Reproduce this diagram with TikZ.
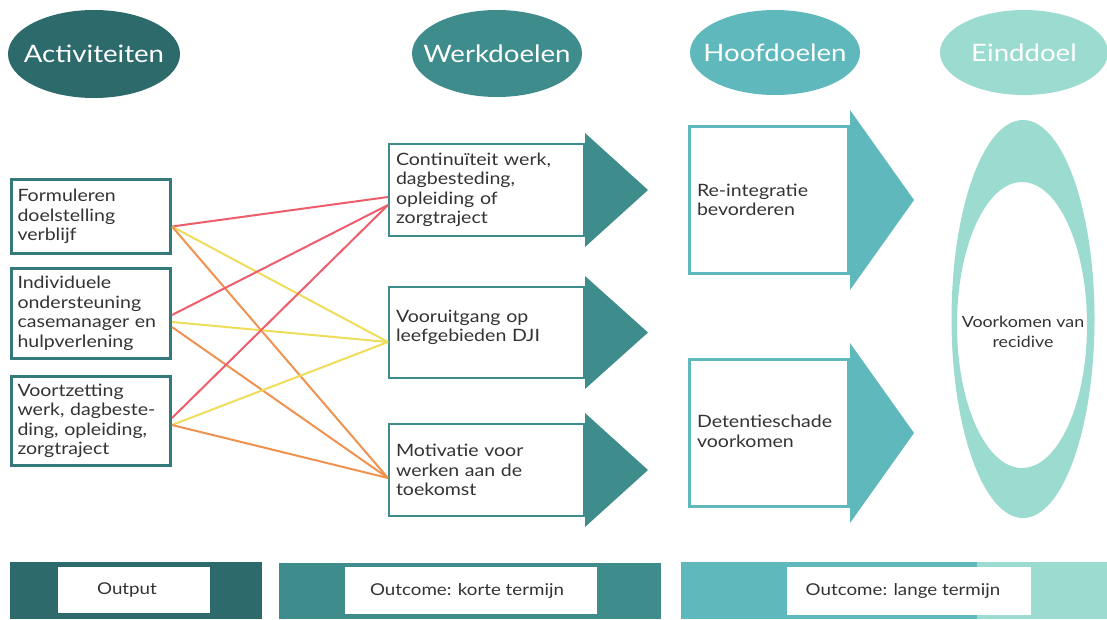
\documentclass[tikz,border=0pt]{standalone}
\usepackage{fontspec}
\setmainfont{Lato}[FakeStretch=1.15]
\usetikzlibrary{shapes.geometric,positioning}

\definecolor{donker}{HTML}{2D6A6B}
\definecolor{midden}{HTML}{3E8C8C}
\definecolor{licht}{HTML}{5FB8BC}
\definecolor{lichtst}{HTML}{9CDBCF}
\definecolor{rand}{HTML}{357A7A}
\definecolor{tekst}{HTML}{333333}
\definecolor{rood}{HTML}{EE5D6C}
\definecolor{geel}{HTML}{EEDC5B}
\definecolor{oranje}{HTML}{F0924F}

\begin{document}
\begin{tikzpicture}[x=1pt,y=-1pt,
  kop/.style={ellipse,inner xsep=-15pt,inner ysep=0pt,text=white,font=\fontsize{24}{27}\selectfont},
  blok/.style={rectangle,draw,fill=white,align=left,text=tekst,font=\fontsize{17}{19.5}\selectfont},
  lijn/.style={line width=2pt},
  label/.style={rectangle,fill=white,text=tekst,inner sep=0pt,font=\fontsize{16.3}{19}\selectfont}]
\useasboundingbox (0,0) rectangle (1107,619);

% koppen
\node[kop,fill=donker,minimum width=172pt,minimum height=88pt] (kact) at (94,54) {Activiteiten};
\node[kop,fill=midden,minimum width=170pt,minimum height=87pt] (kwd) at (497,53.5) {Werkdoelen};
\node[kop,fill=licht,minimum width=170pt,minimum height=85pt] (khd) at (775,52.5) {Hoofdoelen};
\node[kop,fill=lichtst,minimum width=168pt,minimum height=85pt] (keind) at (1024,52.5) {Einddoel};

% activiteiten
\node[blok,draw=rand,line width=3pt,inner xsep=6pt,text width=147pt,minimum height=74pt] (act1) at (91,216.5) {Formuleren\\doelstelling\\verblijf};
\node[blok,draw=rand,line width=3pt,inner xsep=6pt,text width=147pt,minimum height=90pt] (act2) at (91,313.5) {Individuele\\ondersteuning\\casemanager en\\hulpverlening};
\node[blok,draw=rand,line width=3pt,inner xsep=6pt,text width=147pt,minimum height=89pt] (act3) at (91,421) {Voortzetting\\werk, dagbeste-\\ding, opleiding,\\zorgtraject};

% werkdoelen
\node[blok,draw=midden,line width=2pt,inner xsep=7pt,text width=181pt,minimum height=92pt] (wd1) at (486.5,190) {Continuïteit werk,\\dagbesteding,\\opleiding of\\zorgtraject};
\node[blok,draw=midden,line width=2pt,inner xsep=7pt,text width=181pt,minimum height=91pt] (wd2) at (486.5,332.5) {Vooruitgang op\\leefgebieden DJI\\[-6pt]\mbox{}};
\node[blok,draw=midden,line width=2pt,inner xsep=7pt,text width=181pt,minimum height=92pt] (wd3) at (486.5,470) {Motivatie voor\\werken aan de\\toekomst};

\fill[midden] ([yshift=10pt]wd1.north east) -- ([xshift=63pt]wd1.east) -- ([yshift=-10pt]wd1.south east) -- cycle;
\fill[midden] ([yshift=10pt]wd2.north east) -- ([xshift=63pt]wd2.east) -- ([yshift=-10pt]wd2.south east) -- cycle;
\fill[midden] ([yshift=10pt]wd3.north east) -- ([xshift=63pt]wd3.east) -- ([yshift=-10pt]wd3.south east) -- cycle;

% hoofddoelen
\node[blok,draw=licht,line width=3pt,inner xsep=7.5pt,text width=144pt,minimum height=147pt] (hd1) at (769,200) {Re-integratie\\bevorderen};
\node[blok,draw=licht,line width=3pt,inner xsep=7.5pt,text width=144pt,minimum height=147pt] (hd2) at (769,433) {\mbox{}\\[-10pt]Detentieschade\\voorkomen};

\fill[licht] ([yshift=15pt]hd1.north east) -- ([xshift=64pt]hd1.east) -- ([yshift=-15pt]hd1.south east) -- cycle;
\fill[licht] ([yshift=15pt]hd2.north east) -- ([xshift=64pt]hd2.east) -- ([yshift=-15pt]hd2.south east) -- cycle;

% einddoel
\fill[lichtst,even odd rule] (1023,319) ellipse [x radius=71.5,y radius=199] (1022,325) ellipse [x radius=65,y radius=143];
\node[align=center,text=tekst,font=\fontsize{15.5}{19.5}\selectfont] (eind) at (1023,332) {Voorkomen van\\recidive};

% verbindingen
\coordinate (r1) at ([yshift=-7pt]wd1.west);
\coordinate (r2) at ([yshift=-15pt]wd1.west);
\coordinate (g) at ([yshift=-9.5pt]wd2.west);
\coordinate (o) at ([yshift=-8pt]wd3.west);

\draw[lijn,rood] ([yshift=-10pt]act1.east) -- (r1);
\draw[lijn,geel] ([yshift=-10pt]act1.east) -- (g);
\draw[lijn,oranje] ([yshift=-10pt]act1.east) -- (o);
\draw[lijn,rood] ([yshift=-1.5pt]act2.east) -- (r2);
\draw[lijn,geel] ([yshift=-8.5pt]act2.east) -- (g);
\draw[lijn,oranje] ([yshift=-13.5pt]act2.east) -- (o);
\draw[lijn,rood] ([yshift=3pt]act3.east) -- (r2);
\draw[lijn,geel] ([yshift=-4pt]act3.east) -- (g);
\draw[lijn,oranje] ([yshift=-4pt]act3.east) -- (o);

% balken onderaan
\fill[donker] (10,562) rectangle (262,619);
\fill[midden] (279,563) rectangle (661,619);
\fill[licht] (681,562) rectangle (977,619);
\fill[lichtst] (977,562) rectangle (1107,619);

\node[label,minimum width=152pt,minimum height=46pt] (out) at (134,590) {\hspace*{-14pt}Output};
\node[label,minimum width=252pt,minimum height=47pt] (kort) at (471,590.5) {\hspace*{-8pt}Outcome: korte termijn};
\node[label,minimum width=244pt,minimum height=48pt] (lang) at (909,591) {\hspace*{-12pt}Outcome: lange termijn};
\end{tikzpicture}
\end{document}
